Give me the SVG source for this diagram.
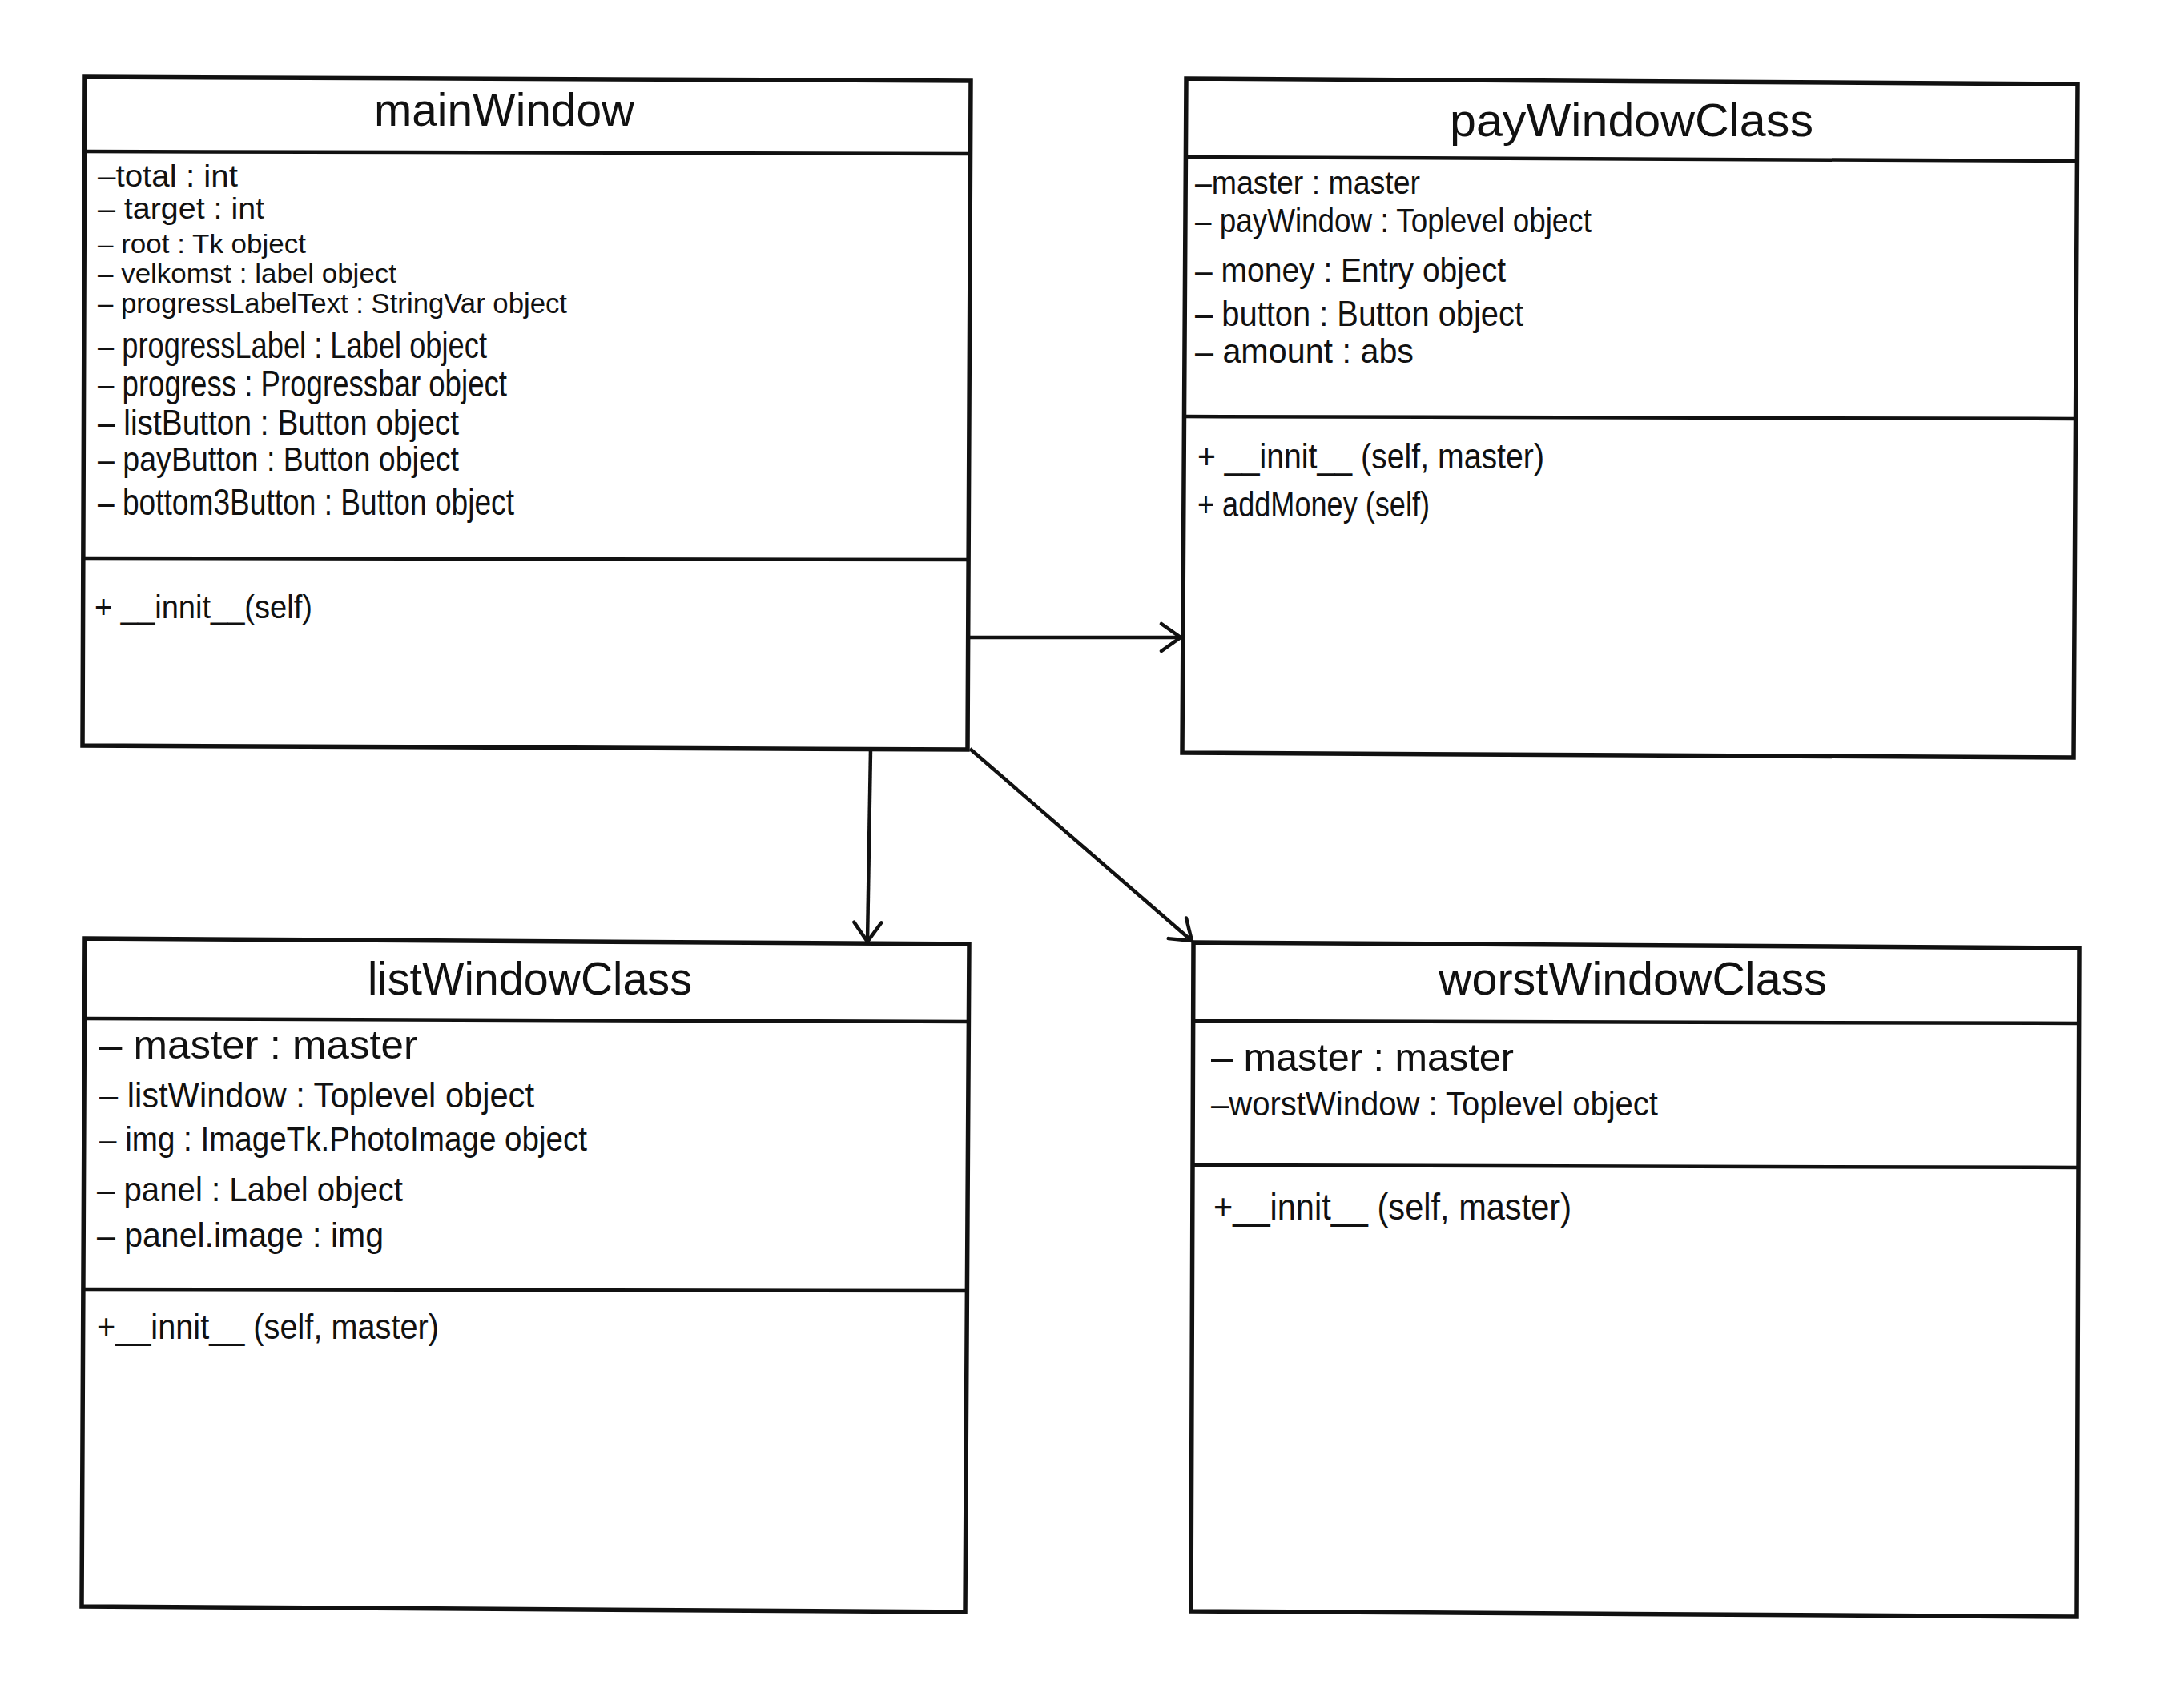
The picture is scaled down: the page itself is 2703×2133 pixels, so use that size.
<svg xmlns="http://www.w3.org/2000/svg" width="2703" height="2133" viewBox="0 0 2703 2133">
<style>
.box{fill:none;stroke:#111;stroke-width:5.5;stroke-linejoin:miter}
.sep{fill:none;stroke:#111;stroke-width:4.5}
.title{font-family:"Liberation Sans",Arial,sans-serif;font-size:57px;fill:#111}
.t{font-family:"Liberation Sans",Arial,sans-serif;fill:#111}
.conn{fill:none;stroke:#111;stroke-width:4.5}
</style>
<defs>
<marker id="open" markerUnits="userSpaceOnUse" markerWidth="40" markerHeight="40" viewBox="-30 -20 40 40" refX="0" refY="0" orient="auto">
<path d="M -24 -17 L 0 0 L -24 17" fill="none" stroke="#111" stroke-width="4.5" stroke-linecap="round"/>
</marker>
</defs>
<rect width="2703" height="2133" fill="#fff"/>

<g id="mainWindow">
<path class="box" d="M106 96 L1212 101 L1208 936 L103 931 Z"/>
<path class="sep" d="M106 189 L1211 192"/>
<path class="sep" d="M104 697 L1209 699"/>
<text class="title" x="467" y="157" textLength="325" lengthAdjust="spacingAndGlyphs">mainWindow</text>
<text class="t" x="122" y="233" font-size="38" textLength="175" lengthAdjust="spacingAndGlyphs">–total : int</text>
<text class="t" x="122" y="273" font-size="37" textLength="208" lengthAdjust="spacingAndGlyphs">– target : int</text>
<text class="t" x="122" y="316" font-size="33" textLength="260" lengthAdjust="spacingAndGlyphs">– root : Tk object</text>
<text class="t" x="122" y="353" font-size="34" textLength="373" lengthAdjust="spacingAndGlyphs">– velkomst : label object</text>
<text class="t" x="122" y="391" font-size="35" textLength="586" lengthAdjust="spacingAndGlyphs">– progressLabelText : StringVar object</text>
<text class="t" x="122" y="447" font-size="46" textLength="486" lengthAdjust="spacingAndGlyphs">– progressLabel : Label object</text>
<text class="t" x="122" y="495" font-size="46" textLength="511" lengthAdjust="spacingAndGlyphs">– progress : Progressbar object</text>
<text class="t" x="122" y="543" font-size="45" textLength="451" lengthAdjust="spacingAndGlyphs">– listButton : Button object</text>
<text class="t" x="122" y="588" font-size="43" textLength="451" lengthAdjust="spacingAndGlyphs">– payButton : Button object</text>
<text class="t" x="122" y="643" font-size="46" textLength="520" lengthAdjust="spacingAndGlyphs">– bottom3Button : Button object</text>
<text class="t" x="118" y="772" font-size="40" textLength="272" lengthAdjust="spacingAndGlyphs">+ __innit__(self)</text>
</g>

<g id="payWindowClass">
<path class="box" d="M1481 98 L2594 105 L2589 946 L1476 940 Z"/>
<path class="sep" d="M1479 196 L2593 201"/>
<path class="sep" d="M1477 520 L2591 523"/>
<text class="title" x="1810" y="170" textLength="454" lengthAdjust="spacingAndGlyphs">payWindowClass</text>
<text class="t" x="1492" y="242" font-size="40" textLength="281" lengthAdjust="spacingAndGlyphs">–master : master</text>
<text class="t" x="1492" y="290" font-size="42" textLength="495" lengthAdjust="spacingAndGlyphs">– payWindow : Toplevel object</text>
<text class="t" x="1492" y="352" font-size="42" textLength="388" lengthAdjust="spacingAndGlyphs">– money : Entry object</text>
<text class="t" x="1492" y="407" font-size="44" textLength="410" lengthAdjust="spacingAndGlyphs">– button : Button object</text>
<text class="t" x="1492" y="453" font-size="42" textLength="273" lengthAdjust="spacingAndGlyphs">– amount : abs</text>
<text class="t" x="1495" y="585" font-size="44" textLength="433" lengthAdjust="spacingAndGlyphs">+ __innit__ (self, master)</text>
<text class="t" x="1495" y="645" font-size="44" textLength="290" lengthAdjust="spacingAndGlyphs">+ addMoney (self)</text>
</g>

<g id="listWindowClass">
<path class="box" d="M106 1172 L1210 1179 L1205 2013 L102 2006 Z"/>
<path class="sep" d="M105 1272 L1209 1276"/>
<path class="sep" d="M104 1610 L1207 1612"/>
<text class="title" x="459" y="1242" textLength="405" lengthAdjust="spacingAndGlyphs">listWindowClass</text>
<text class="t" x="124" y="1322" font-size="50" textLength="397" lengthAdjust="spacingAndGlyphs">– master : master</text>
<text class="t" x="124" y="1383" font-size="44" textLength="543" lengthAdjust="spacingAndGlyphs">– listWindow : Toplevel object</text>
<text class="t" x="124" y="1437" font-size="42" textLength="609" lengthAdjust="spacingAndGlyphs">– img : ImageTk.PhotoImage object</text>
<text class="t" x="121" y="1500" font-size="42" textLength="382" lengthAdjust="spacingAndGlyphs">– panel : Label object</text>
<text class="t" x="121" y="1557" font-size="42" textLength="358" lengthAdjust="spacingAndGlyphs">– panel.image : img</text>
<text class="t" x="121" y="1672" font-size="44" textLength="427" lengthAdjust="spacingAndGlyphs">+__innit__ (self, master)</text>
</g>

<g id="worstWindowClass">
<path class="box" d="M1490 1177 L2596 1184 L2593 2019 L1487 2012 Z"/>
<path class="sep" d="M1490 1275 L2596 1278"/>
<path class="sep" d="M1489 1455 L2595 1458"/>
<text class="title" x="1796" y="1242" textLength="485" lengthAdjust="spacingAndGlyphs">worstWindowClass</text>
<text class="t" x="1512" y="1337" font-size="48" textLength="378" lengthAdjust="spacingAndGlyphs">– master : master</text>
<text class="t" x="1512" y="1393" font-size="42" textLength="558" lengthAdjust="spacingAndGlyphs">–worstWindow : Toplevel object</text>
<text class="t" x="1515" y="1523" font-size="46" textLength="447" lengthAdjust="spacingAndGlyphs">+__innit__ (self, master)</text>
</g>

<g id="connectors">
<path class="conn" d="M1211 796 L1474 796" marker-end="url(#open)"/>
<path class="conn" d="M1087 936 L1083 1176" marker-end="url(#open)"/>
<path class="conn" d="M1211 935 L1488 1175" marker-end="url(#open)"/>
</g>
</svg>
